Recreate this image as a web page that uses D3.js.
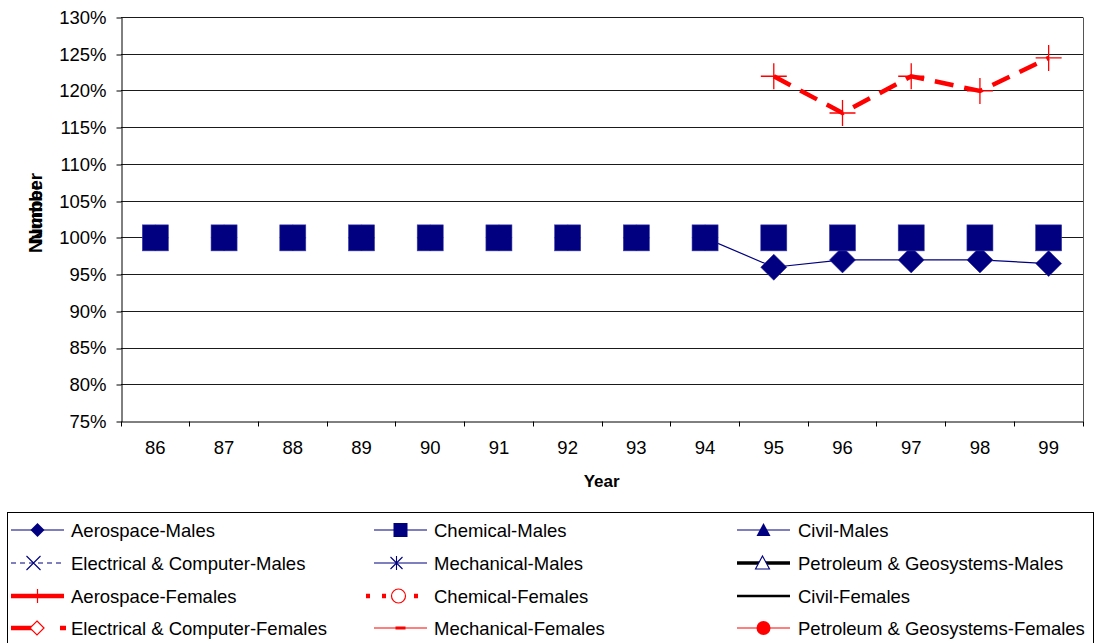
<!DOCTYPE html>
<html>
<head>
<meta charset="utf-8">
<script src="https://cdn.jsdelivr.net/npm/d3@7"></script>
<style>
  html, body { margin: 0; padding: 0; background: #fff; }
  svg { display: block; font-family: "Liberation Sans", Arial, sans-serif; }
</style>
</head>
<body>
<svg id="chart" width="1103" height="643"></svg>
<script>
// Year categories and ratio values (1.00 = 100%)
const years = ["86", "87", "88", "89", "90", "91", "92", "93", "94", "95", "96", "97", "98", "99"];
const aerospaceMales   = [1.00, 1.00, 1.00, 1.00, 1.00, 1.00, 1.00, 1.00, 1.00, 0.96, 0.97, 0.97, 0.97, 0.965];
const chemicalMales    = [1.00, 1.00, 1.00, 1.00, 1.00, 1.00, 1.00, 1.00, 1.00, 1.00, 1.00, 1.00, 1.00, 1.00];
const aerospaceFemales = [null, null, null, null, null, null, null, null, null, 1.22, 1.17, 1.22, 1.20, 1.245];
const yTicks = [0.75, 0.80, 0.85, 0.90, 0.95, 1.00, 1.05, 1.10, 1.15, 1.20, 1.25, 1.30];

const legendNames = [
  "Aerospace-Males", "Chemical-Males", "Civil-Males",
  "Electrical & Computer-Males", "Mechanical-Males", "Petroleum & Geosystems-Males",
  "Aerospace-Females", "Chemical-Females", "Civil-Females",
  "Electrical & Computer-Females", "Mechanical-Females", "Petroleum & Geosystems-Females"
];

const NAVY = "#000080", RED = "#ff0000";
const FONT = 18.5;
const svg = d3.select("#chart");

const plot = { left: 121, right: 1083, top: 17.5, bottom: 421.5 };
const x = d3.scaleBand().domain(years).range([plot.left, plot.right]);
const y = d3.scaleLinear().domain([0.75, 1.30]).range([plot.bottom, plot.top]);
const cx = d => x(d) + x.bandwidth() / 2;
const snap = v => Math.round(v - 0.5) + 0.5;

// horizontal gridlines
svg.append("g").selectAll("line")
  .data(yTicks.filter(t => t > 0.75))
  .join("line")
  .attr("x1", plot.left).attr("x2", plot.right)
  .attr("y1", d => snap(y(d))).attr("y2", d => snap(y(d)))
  .attr("stroke", "#1a1a1a").attr("stroke-width", 1);

// right border of plot area
svg.append("line")
  .attr("x1", snap(plot.right)).attr("x2", snap(plot.right))
  .attr("y1", plot.top).attr("y2", plot.bottom)
  .attr("stroke", "#555").attr("stroke-width", 1);

// y axis
const yAxis = svg.append("g")
  .attr("transform", `translate(${snap(plot.left)},0)`)
  .call(d3.axisLeft(y).tickValues(yTicks).tickFormat(d3.format(".0%"))
    .tickSize(5).tickSizeOuter(0).tickPadding(10));
yAxis.selectAll("text").attr("font-size", FONT).attr("fill", "#000")
  .attr("font-family", "Liberation Sans, Arial, sans-serif");
yAxis.selectAll("line, path").attr("stroke", "#000");
yAxis.selectAll(".tick line").attr("transform", (d) => `translate(0,${snap(y(d)) - y(d)})`);

// x axis: labels centred in bands, ticks on band boundaries
const xAxis = svg.append("g")
  .attr("transform", `translate(0,${snap(plot.bottom)})`)
  .call(d3.axisBottom(x).tickSize(0).tickSizeOuter(0).tickPadding(19));
xAxis.selectAll("text").attr("font-size", FONT).attr("fill", "#000")
  .attr("font-family", "Liberation Sans, Arial, sans-serif");
xAxis.select(".domain").attr("stroke", "#000");
xAxis.selectAll(".bnd").data(years.concat(["end"])).join("line")
  .attr("class", "bnd")
  .attr("x1", (d, i) => snap(i < years.length ? x(d) : plot.right))
  .attr("x2", (d, i) => snap(i < years.length ? x(d) : plot.right))
  .attr("y1", 0).attr("y2", 5).attr("stroke", "#000");

// axis titles
svg.append("text").attr("x", cx("92") + 34).attr("y", 487)
  .attr("text-anchor", "middle").attr("font-weight", "bold").attr("font-size", 17)
  .text("Year");
[208, 218].forEach(c => {
  svg.append("text")
    .attr("transform", `translate(42,${c}) rotate(-90)`)
    .attr("text-anchor", "middle").attr("font-weight", "bold").attr("font-size", 18)
    .attr("textLength", 70).attr("lengthAdjust", "spacingAndGlyphs")
    .text("Number");
});

const line = d3.line().defined(d => d[1] != null).x(d => cx(d[0])).y(d => y(d[1]));
const pairs = arr => years.map((yr, i) => [yr, arr[i]]);

// Aerospace-Males line
svg.append("path").attr("d", line(pairs(aerospaceMales)))
  .attr("fill", "none").attr("stroke", NAVY).attr("stroke-width", 1.2);

// Chemical-Males line rendered in background colour
svg.append("path").attr("d", line(pairs(chemicalMales)))
  .attr("fill", "none").attr("stroke", "#fff").attr("stroke-width", 3);

// Aerospace-Females dashed line
svg.append("path").attr("d", line(pairs(aerospaceFemales)))
  .attr("fill", "none").attr("stroke", RED).attr("stroke-width", 4.5)
  .attr("stroke-dasharray", "19,11");

// markers
const diamond = (s) => `M0,${-s}L${s},0L0,${s}L${-s},0Z`;
svg.append("g").selectAll("path")
  .data(pairs(aerospaceMales)).join("path")
  .attr("transform", d => `translate(${cx(d[0])},${y(d[1])})`)
  .attr("d", diamond(13)).attr("fill", NAVY).attr("stroke", "#2a2a9a").attr("stroke-width", 0.6);

svg.append("g").selectAll("rect")
  .data(pairs(chemicalMales)).join("rect")
  .attr("x", d => cx(d[0]) - 13).attr("y", d => y(d[1]) - 13)
  .attr("width", 26).attr("height", 26)
  .attr("fill", NAVY).attr("stroke", "#3a3aa8").attr("stroke-width", 0.6);

svg.append("g").selectAll("path")
  .data(pairs(aerospaceFemales).filter(d => d[1] != null)).join("path")
  .attr("transform", d => `translate(${cx(d[0])},${y(d[1])})`)
  .attr("d", "M-13,0H13M0,-13V13").attr("stroke", RED).attr("stroke-width", 1.3);

// legend
const lg = svg.append("g");
lg.append("rect").attr("x", 7.5).attr("y", 512.5).attr("width", 1086).attr("height", 140)
  .attr("fill", "#fff").attr("stroke", "#000").attr("stroke-width", 1);

const colX = [11, 374, 737];
const colText = [71, 434, 798];
const rowY = [530, 563, 596, 628];
const symW = 53;

function legendSymbol(g, i, x0, yc) {
  const xm = x0 + symW / 2, x1 = x0 + symW;
  const ln = (stroke, w, dash) => g.append("line").attr("x1", x0).attr("x2", x1)
    .attr("y1", yc).attr("y2", yc).attr("stroke", stroke).attr("stroke-width", w)
    .attr("stroke-dasharray", dash || null);
  switch (i) {
    case 0: ln(NAVY, 1.2);
      g.append("path").attr("transform", `translate(${xm},${yc})`).attr("d", diamond(7)).attr("fill", NAVY); break;
    case 1: ln(NAVY, 1.2);
      g.append("rect").attr("x", xm - 7).attr("y", yc - 7).attr("width", 14).attr("height", 14).attr("fill", NAVY); break;
    case 2: ln(NAVY, 1.2);
      g.append("path").attr("transform", `translate(${xm},${yc})`).attr("d", "M0,-7L7,6H-7Z").attr("fill", NAVY); break;
    case 3: ln(NAVY, 1, "5,4");
      g.append("path").attr("transform", `translate(${xm - 4},${yc})`).attr("d", "M-7,-7L7,7M-7,7L7,-7")
        .attr("stroke", NAVY).attr("stroke-width", 1.1); break;
    case 4: ln(NAVY, 1.2);
      g.append("path").attr("transform", `translate(${xm - 4},${yc})`).attr("d", "M-6,-6L6,6M-6,6L6,-6M0,-7V7")
        .attr("stroke", NAVY).attr("stroke-width", 1.1); break;
    case 5: ln("#000", 3.5);
      g.append("path").attr("transform", `translate(${xm - 1},${yc})`).attr("d", "M0,-7L7,6H-7Z")
        .attr("fill", "#fff").attr("stroke", NAVY).attr("stroke-width", 1.1); break;
    case 6: ln(RED, 4.5);
      g.append("path").attr("transform", `translate(${xm},${yc})`).attr("d", "M-7,0H7M0,-7V7")
        .attr("stroke", RED).attr("stroke-width", 1.2); break;
    case 7:
      g.append("line").attr("x1", x0 - 8).attr("x2", x1).attr("y1", yc).attr("y2", yc)
        .attr("stroke", RED).attr("stroke-width", 4.5).attr("stroke-dasharray", "4,12");
      g.append("circle").attr("cx", xm - 2).attr("cy", yc).attr("r", 7)
        .attr("fill", "#fff").attr("stroke", RED).attr("stroke-width", 1.2); break;
    case 8: ln("#000", 2.5); break;
    case 9:
      g.append("line").attr("x1", x0).attr("x2", x0 + 28).attr("y1", yc).attr("y2", yc)
        .attr("stroke", RED).attr("stroke-width", 4.5);
      g.append("line").attr("x1", x0 + 49).attr("x2", x0 + 55).attr("y1", yc).attr("y2", yc)
        .attr("stroke", RED).attr("stroke-width", 4.5);
      g.append("path").attr("transform", `translate(${x0 + 26},${yc})`).attr("d", diamond(7))
        .attr("fill", "#fff").attr("stroke", RED).attr("stroke-width", 1.2); break;
    case 10: ln(RED, 1.2);
      g.append("line").attr("x1", xm - 5).attr("x2", xm + 5).attr("y1", yc).attr("y2", yc)
        .attr("stroke", RED).attr("stroke-width", 3); break;
    case 11: ln(RED, 1.2);
      g.append("circle").attr("cx", xm).attr("cy", yc).attr("r", 7).attr("fill", RED); break;
  }
}

legendNames.forEach((name, i) => {
  const col = i % 3, row = Math.floor(i / 3);
  const g = lg.append("g");
  legendSymbol(g, i, colX[col], rowY[row]);
  g.append("text").attr("x", colText[col]).attr("y", rowY[row]).attr("dy", "0.36em")
    .attr("font-size", FONT).attr("fill", "#000").text(name);
});
</script>
</body>
</html>
